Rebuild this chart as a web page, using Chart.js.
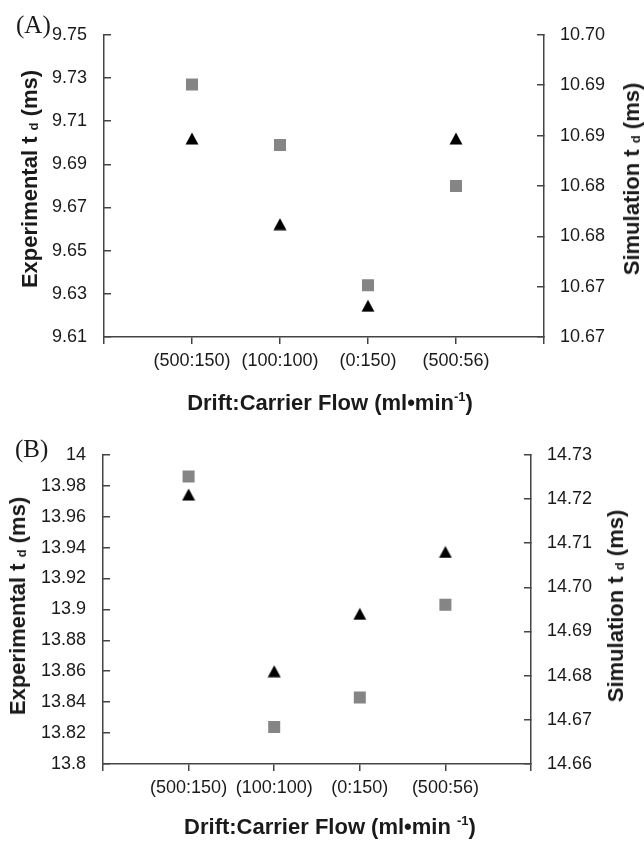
<!DOCTYPE html>
<html>
<head>
<meta charset="utf-8">
<script src="https://cdn.jsdelivr.net/npm/chart.js@4.4.0/dist/chart.umd.min.js"></script>
<style>
  body { margin: 0; background: #fff; }
  #page { position: relative; width: 644px; height: 841px; font-family: "Liberation Sans", Arial, sans-serif; color: #1a1a1a; overflow: hidden; }
  .panel { position: absolute; left: 0; width: 644px; }
  .tag { position: absolute; font-family: "Liberation Serif", "Times New Roman", serif; font-size: 25px; transform: translateY(-50%); white-space: nowrap; }
  .ytitle { position: absolute; font-weight: bold; font-size: 22px; white-space: nowrap; transform: translate(-50%, -50%) rotate(-90deg); }
  .xtitle { position: absolute; font-weight: bold; font-size: 22px; white-space: nowrap; transform: translate(-50%, -50%); }
  .sub { font-size: 13px; position: relative; top: 1px; }
  .sup { font-size: 13px; position: relative; top: -9px; }
</style>
</head>
<body>
<div id="page">
  <div class="panel" style="top:0;height:420px;"><canvas id="chartA" width="644" height="420"></canvas></div>
  <div class="panel" style="top:420px;height:421px;"><canvas id="chartB" width="644" height="421"></canvas></div>

  <div class="tag" style="left:16px;top:25px;">(A)</div>
  <div class="ytitle" style="left:30px;top:179px;">Experimental t <span class="sub">d</span> (ms)</div>
  <div class="ytitle" style="left:632px;top:179px;">Simulation t <span class="sub">d</span> (ms)</div>
  <div class="xtitle" style="left:330px;top:403px;">Drift:Carrier Flow (ml•min<span class="sup">-1</span>)</div>

  <div class="tag" style="left:15px;top:449px;">(B)</div>
  <div class="ytitle" style="left:18px;top:606px;">Experimental t <span class="sub">d</span> (ms)</div>
  <div class="ytitle" style="left:616px;top:606px;">Simulation t <span class="sub">d</span> (ms)</div>
  <div class="xtitle" style="left:330px;top:827px;">Drift:Carrier Flow (ml•min <span class="sup">-1</span>)</div>
</div>

<script>
// categories on the x axis (placed at 1..4, axis runs 0..5)
const categories = ['(500:150)', '(100:100)', '(0:150)', '(500:56)'];
const xTicks = [0, 1, 2, 3, 4, 5];

// panel A values
const expA = [9.727, 9.699, 9.634, 9.680];
const simA = [10.6847, 10.6762, 10.6681, 10.6847];
const leftTicksA = [9.61, 9.63, 9.65, 9.67, 9.69, 9.71, 9.73, 9.75];
const leftLabelsA = ['9.61', '9.63', '9.65', '9.67', '9.69', '9.71', '9.73', '9.75'];
const rightTicksA = [10.665, 10.670, 10.675, 10.680, 10.685, 10.690, 10.695];
const rightLabelsA = ['10.67', '10.67', '10.68', '10.68', '10.69', '10.69', '10.70'];

// panel B values
const expB = [13.986, 13.824, 13.843, 13.903];
const simB = [14.721, 14.681, 14.694, 14.708];
const leftTicksB = [13.8, 13.82, 13.84, 13.86, 13.88, 13.9, 13.92, 13.94, 13.96, 13.98, 14];
const leftLabelsB = ['13.8', '13.82', '13.84', '13.86', '13.88', '13.9', '13.92', '13.94', '13.96', '13.98', '14'];
const rightTicksB = [14.66, 14.67, 14.68, 14.69, 14.70, 14.71, 14.72, 14.73];
const rightLabelsB = ['14.66', '14.67', '14.68', '14.69', '14.70', '14.71', '14.72', '14.73'];

const AXIS = '#444';
const FONT = { family: '"Liberation Sans", Arial, sans-serif', size: 18 };

// black triangle marker, centred on the point
function triangleMarker() {
  const c = document.createElement('canvas');
  c.width = 14; c.height = 13;
  const g = c.getContext('2d');
  g.fillStyle = '#000';
  g.beginPath();
  g.moveTo(7, 0.5);
  g.lineTo(13.5, 12.5);
  g.lineTo(0.5, 12.5);
  g.closePath();
  g.fill();
  return c;
}
const tri = triangleMarker();

function yAxis(pos, ticks, labels, width, pad) {
  return {
    type: 'linear',
    position: pos,
    min: ticks[0],
    max: ticks[ticks.length - 1],
    afterBuildTicks: s => { s.ticks = ticks.map(v => ({ value: v })); },
    afterFit: s => { s.width = width; },
    grid: { drawOnChartArea: false, drawTicks: true, tickLength: -7, color: AXIS, lineWidth: 1.5 },
    border: { display: true, color: AXIS, width: 1.5 },
    ticks: { font: FONT, color: '#1a1a1a', padding: pad, callback: (v, i) => labels[i] }
  };
}

function makePanel(id, exp, sim, lt, ll, rt, rl, o) {
  new Chart(document.getElementById(id), {
    type: 'scatter',
    data: {
      datasets: [
        {
          label: 'Experimental',
          data: exp.map((v, i) => ({ x: i + 1, y: v })),
          yAxisID: 'y',
          pointStyle: 'rect',
          pointRadius: 8.5,
          pointHoverRadius: 8.5,
          backgroundColor: '#858585',
          borderWidth: 0
        },
        {
          label: 'Simulation',
          data: sim.map((v, i) => ({ x: i + 1, y: v })),
          yAxisID: 'y1',
          pointStyle: tri,
          pointRadius: 7,
          backgroundColor: '#000',
          borderWidth: 0
        }
      ]
    },
    options: {
      responsive: false,
      animation: false,
      layout: { padding: { top: o.top, bottom: 0, left: 0, right: 0 } },
      plugins: { legend: { display: false }, tooltip: { enabled: false } },
      scales: {
        x: {
          type: 'linear',
          min: 0,
          max: 5,
          afterBuildTicks: s => { s.ticks = xTicks.map(v => ({ value: v })); },
          afterFit: s => { s.height = o.xh; },
          grid: { drawOnChartArea: false, drawTicks: true, tickLength: 7, color: AXIS, lineWidth: 1.5 },
          border: { display: true, color: AXIS, width: 1.5 },
          ticks: {
            font: FONT, color: '#1a1a1a', padding: 6, maxRotation: 0, autoSkip: false,
            callback: (v, i) => (i >= 1 && i <= 4) ? categories[i - 1] : ''
          }
        },
        y: yAxis('left', lt, ll, o.lw, 24),
        y1: yAxis('right', rt, rl, o.rw, 23)
      }
    }
  });
}

makePanel('chartA', expA, simA, leftTicksA, leftLabelsA, rightTicksA, rightLabelsA,
  { top: 21, xh: 83, lw: 104, rw: 100 });
makePanel('chartB', expB, simB, leftTicksB, leftLabelsB, rightTicksB, rightLabelsB,
  { top: 28, xh: 77, lw: 103, rw: 113 });
</script>
</body>
</html>
